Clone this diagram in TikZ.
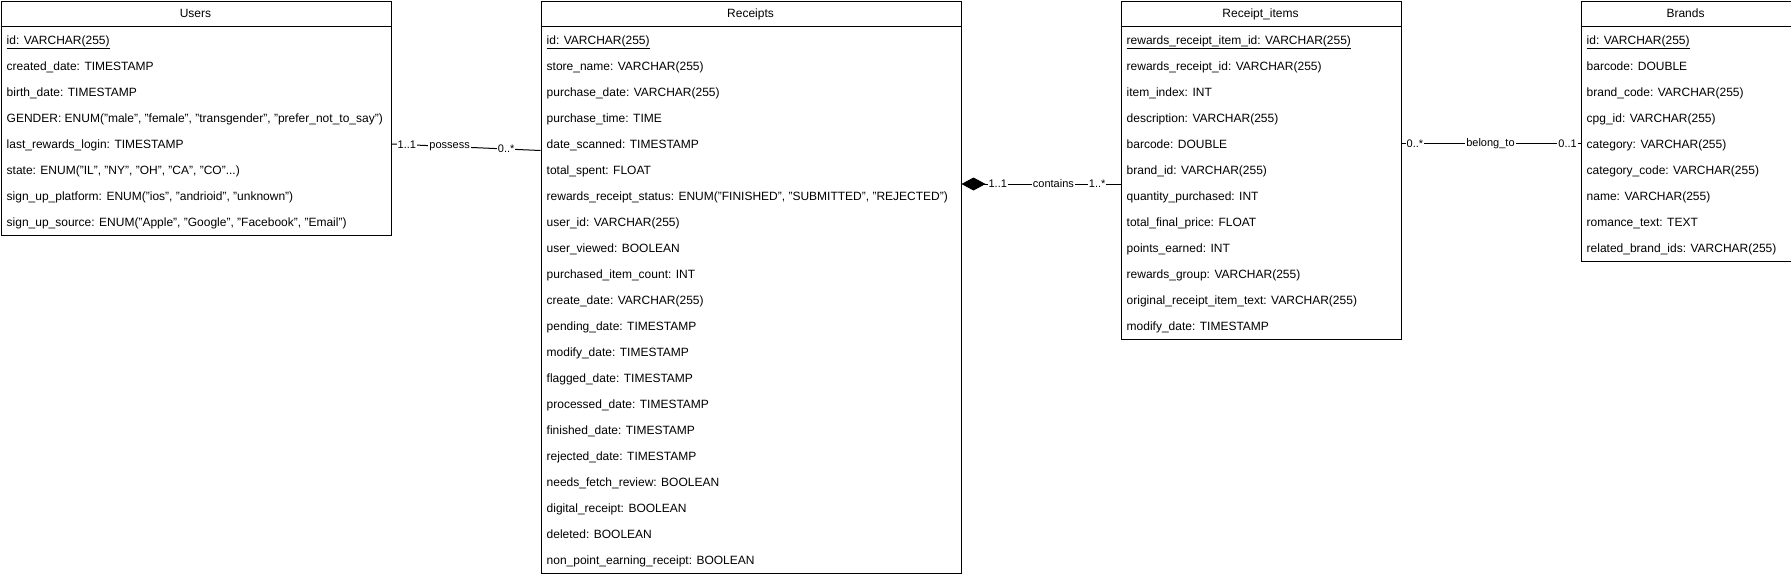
\documentclass[tikz,border=0pt]{standalone}
\usepackage{fontspec}
\setmainfont{Liberation Sans}
\usetikzlibrary{arrows.meta}
\tikzset{
  tablebox/.style={draw, line width=1pt, anchor=north west, inner sep=0pt, fill=white},
  rowtext/.style={anchor=base west, inner sep=0pt, font=\fontsize{12}{14}\selectfont},
  titletext/.style={anchor=base, inner sep=0pt, font=\fontsize{12}{14}\selectfont},
  rel/.style={line width=1pt},
  mult/.style={fill=white, inner sep=1pt, font=\fontsize{11}{13}\selectfont},
  comp/.style={{Diamond[length=24pt,width=13pt,fill=black]}-}
}
\begin{document}
\begin{tikzpicture}[x=1pt,y=-1pt]
\useasboundingbox (0,0) rectangle (1791,576);

% ---------- Users ----------
\node[tablebox, minimum width=390pt, minimum height=234pt] (users) at (0.5,0.5) {};
\draw[line width=1pt] (users.north west |- 0,26.5) -- (users.north east |- 0,26.5);
\node[titletext] (usersT) at (195.5,17.5) {Users};
\node[rowtext] (u0) at (6.5,44) {\underline{id: VARCHAR(255)}};
\node[rowtext] (u1) at (6.5,70) {created\_date: TIMESTAMP};
\node[rowtext] (u2) at (6.5,96) {birth\_date: TIMESTAMP};
\node[rowtext] (u3) at (6.5,122) {GENDER: ENUM("male", "female", "transgender", "prefer\_not\_to\_say")};
\node[rowtext] (u4) at (6.5,148) {last\_rewards\_login: TIMESTAMP};
\node[rowtext] (u5) at (6.5,174) {state: ENUM("IL", "NY", "OH", "CA", "CO"...)};
\node[rowtext] (u6) at (6.5,200) {sign\_up\_platform: ENUM("ios", "andrioid", "unknown")};
\node[rowtext] (u7) at (6.5,226) {sign\_up\_source: ENUM("Apple", "Google", "Facebook", "Email")};

% ---------- Receipts ----------
\node[tablebox, minimum width=420pt, minimum height=572pt] (receipts) at (540.5,0.5) {};
\draw[line width=1pt] (receipts.north west |- 0,26.5) -- (receipts.north east |- 0,26.5);
\node[titletext] (receiptsT) at (750.5,17.5) {Receipts};
\node[rowtext] (r0) at (546.5,44) {\underline{id: VARCHAR(255)}};
\foreach \t [count=\k from 1] in {
  {store\_name: VARCHAR(255)},
  {purchase\_date: VARCHAR(255)},
  {purchase\_time: TIME},
  {date\_scanned: TIMESTAMP},
  {total\_spent: FLOAT},
  {rewards\_receipt\_status: ENUM("FINISHED", "SUBMITTED", "REJECTED")},
  {user\_id: VARCHAR(255)},
  {user\_viewed: BOOLEAN},
  {purchased\_item\_count: INT},
  {create\_date: VARCHAR(255)},
  {pending\_date: TIMESTAMP},
  {modify\_date: TIMESTAMP},
  {flagged\_date: TIMESTAMP},
  {processed\_date: TIMESTAMP},
  {finished\_date: TIMESTAMP},
  {rejected\_date: TIMESTAMP},
  {needs\_fetch\_review: BOOLEAN},
  {digital\_receipt: BOOLEAN},
  {deleted: BOOLEAN},
  {non\_point\_earning\_receipt: BOOLEAN}}
  \node[rowtext] (r\k) at (546.5,{44+26*\k}) {\t};

% ---------- Receipt_items ----------
\node[tablebox, minimum width=280pt, minimum height=338pt] (items) at (1120.5,0.5) {};
\draw[line width=1pt] (items.north west |- 0,26.5) -- (items.north east |- 0,26.5);
\node[titletext] (itemsT) at (1260.5,17.5) {Receipt\_items};
\node[rowtext] (i0) at (1126.5,44) {\underline{rewards\_receipt\_item\_id: VARCHAR(255)}};
\foreach \t [count=\k from 1] in {
  {rewards\_receipt\_id: VARCHAR(255)},
  {item\_index: INT},
  {description: VARCHAR(255)},
  {barcode: DOUBLE},
  {brand\_id: VARCHAR(255)},
  {quantity\_purchased: INT},
  {total\_final\_price: FLOAT},
  {points\_earned: INT},
  {rewards\_group: VARCHAR(255)},
  {original\_receipt\_item\_text: VARCHAR(255)},
  {modify\_date: TIMESTAMP}}
  \node[rowtext] (i\k) at (1126.5,{44+26*\k}) {\t};

% ---------- Brands ----------
\node[tablebox, minimum width=210pt, minimum height=260pt] (brands) at (1580.5,0.5) {};
\draw[line width=1pt] (brands.north west |- 0,26.5) -- (brands.north east |- 0,26.5);
\node[titletext] (brandsT) at (1685.5,17.5) {Brands};
\node[rowtext] (b0) at (1586.5,44) {\underline{id: VARCHAR(255)}};
\foreach \t [count=\k from 1] in {
  {barcode: DOUBLE},
  {brand\_code: VARCHAR(255)},
  {cpg\_id: VARCHAR(255)},
  {category: VARCHAR(255)},
  {category\_code: VARCHAR(255)},
  {name: VARCHAR(255)},
  {romance\_text: TEXT},
  {related\_brand\_ids: VARCHAR(255)}}
  \node[rowtext] (b\k) at (1586.5,{44+26*\k}) {\t};

% ---------- connector end points ----------
\coordinate (usersR) at ([yshift=-143.5pt]users.north east);
\coordinate (receiptsL) at ([yshift=-150pt]receipts.north west);
\coordinate (receiptsR) at ([yshift=-183.5pt]receipts.north east);
\coordinate (itemsL) at ([yshift=-183.5pt]items.north west);
\coordinate (itemsR) at ([yshift=-143pt]items.north east);
\coordinate (brandsL) at ([yshift=-143pt]brands.north west);

% ---------- connectors ----------
\draw[rel] (usersR) -- (receiptsL)
  node[mult, pos=0.103] (m1a) {1..1}
  node[mult, pos=0.39] (m1b) {possess}
  node[mult, pos=0.77] (m1c) {0..*};
\draw[rel, comp] (receiptsR) -- (itemsL)
  node[mult, pos=0.228] (m2a) {1..1}
  node[mult, pos=0.578] (m2b) {contains}
  node[mult, pos=0.853] (m2c) {1..*};
\draw[rel] (itemsR) -- (brandsL)
  node[mult, pos=0.075] (m3a) {0..*}
  node[mult, pos=0.497] (m3b) {belong\_to}
  node[mult, pos=0.928] (m3c) {0..1};
\end{tikzpicture}
\end{document}
